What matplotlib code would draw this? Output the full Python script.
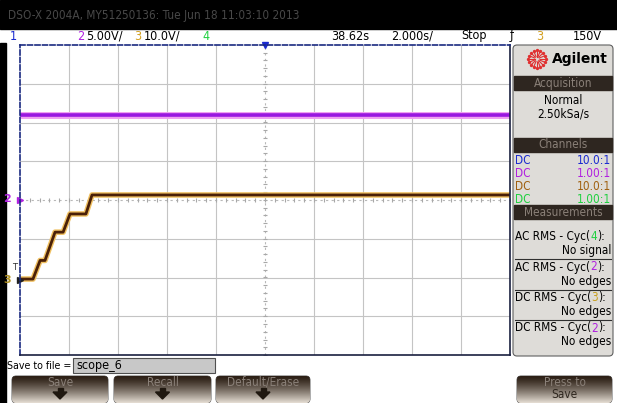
import numpy as np
import matplotlib
matplotlib.use("Agg")
import matplotlib.pyplot as plt
from matplotlib.patches import Rectangle, FancyBboxPatch, Polygon
from matplotlib import font_manager

# --- values ---
t_ch3 = [28.62, 29.15, 29.44, 29.64, 30.05, 30.38, 30.66, 31.31, 31.56, 48.62]
v_ch3 = [0.2, 0.2, 5.0, 5.0, 12.3, 12.3, 17.0, 17.0, 21.9, 21.9]
t_ch2 = [28.62, 48.62]
v_ch2 = [10.97, 10.97]

volts_div = {2: 5.0, 3: 10.0}
offset_div = {2: 0.0, 3: -2.06}
t_center = 38.62
t_div = 2.0

channel_rows = [("DC", "10.0:1", "#1a2ad0"), ("DC", "1.00:1", "#b020e0"),
                ("DC", "10.0:1", "#a06010"), ("DC", "1.00:1", "#20d040")]
meas_rows = [("AC RMS - Cyc(", "4", "#20d040", "No signal"),
             ("AC RMS - Cyc(", "2", "#b020e0", "No edges"),
             ("DC RMS - Cyc(", "3", "#c8a020", "No edges"),
             ("DC RMS - Cyc(", "2", "#b020e0", "No edges")]
buttons = [("Save", 12, 108), ("Recall", 114, 211), ("Default/Erase", 216, 310),
           ("Press to\nSave", 517, 612)]

# look for a narrow face, the scope font is condensed
narrow = None
for f in font_manager.fontManager.ttflist:
    if f.stretch in ("condensed", "semi-condensed", "extra-condensed", 700, 600, 500) or \
       "Condensed" in f.fname or "Narrow" in f.fname:
        if "Bold" in f.fname or "Oblique" in f.fname or "Italic" in f.fname:
            continue
        narrow = f
        break
if narrow is not None:
    font_manager.fontManager.addfont(narrow.fname)
    FP = dict(fontproperties=font_manager.FontProperties(fname=narrow.fname))
    FS = 8.5
else:
    FP = dict(family="DejaVu Sans")
    FS = 7.2

BLUE = "#1a2ad0"
PURPLE = "#b020e0"
ORANGE = "#d4a020"
GREEN = "#20d040"


def txt(x, y, s, size=None, **kw):
    if "fontproperties" in FP:
        p = FP["fontproperties"].copy()
        p.set_size(size or FS)
        return bg.text(x, y, s, fontproperties=p, **kw)
    return bg.text(x, y, s, family="DejaVu Sans", fontsize=size or FS, **kw)


fig = plt.figure(figsize=(6.17, 4.03), dpi=100)
bg = fig.add_axes([0, 0, 1, 1])
bg.set_xlim(0, 617)
bg.set_ylim(403, 0)
bg.axis("off")

# top black bar and left border
bg.add_patch(Rectangle((0, 0), 617, 29, color="black"))
txt(8, 16, "DSO-X 2004A, MY51250136: Tue Jun 18 11:03:10 2013", color="#484848", va="center")
bg.add_patch(Rectangle((0, 43), 6, 360, color="black"))

# header row
hdr = [(10, "1", BLUE), (77, "2", PURPLE), (86, "5.00V/", "black"), (134, "3", ORANGE),
       (144, "10.0V/", "black"), (202, "4", GREEN), (331, "38.62s", "black"),
       (391, "2.000s/", "black"), (461, "Stop", "black"), (510, "ƒ", "black"),
       (536, "3", ORANGE), (573, "150V", "black")]
for x, s, c in hdr:
    txt(x, 36, s, size=FS + 0.5, color=c, va="center", ha="left")

# right panel
bg.add_patch(FancyBboxPatch((513, 45), 100, 311, boxstyle="round,pad=0,rounding_size=4",
                            fc="#dedcd8", ec="#606060", lw=0.8))
cx, cy = 537, 59
for a in np.linspace(0, 2 * np.pi, 16, endpoint=False):
    bg.plot([cx + 2.5 * np.cos(a), cx + 8 * np.cos(a)], [cy + 2.5 * np.sin(a), cy + 8 * np.sin(a)],
            color="#e03030", lw=0.8)
    bg.plot(cx + 9 * np.cos(a), cy + 9 * np.sin(a), "o", color="#e03030", ms=1.4)
bg.text(552, 59, "Agilent", fontsize=10, fontweight="bold", va="center", family="DejaVu Sans")


def header_bar(y0, y1, label):
    bg.add_patch(Rectangle((514, y0), 98, y1 - y0, color="#2e2620"))
    txt(563, (y0 + y1) / 2, label, color="#8a8078", ha="center", va="center")


header_bar(76, 90, "Acquisition")
txt(563, 100, "Normal", ha="center", va="center")
txt(563, 114, "2.50kSa/s", ha="center", va="center")
header_bar(138, 152, "Channels")
for i, (a, b, c) in enumerate(channel_rows):
    y = 160 + i * 13.3
    txt(515, y, a, color=c, va="center")
    txt(611, y, b, color=c, va="center", ha="right")
header_bar(205, 219, "Measurements")
extra = {"family": "DejaVu Sans"} if "family" in FP else {"fontproperties": FP["fontproperties"]}
for i, (pre, num, c, res) in enumerate(meas_rows):
    y = 240 + i * 30.5
    t1 = txt(515, y, pre, va="baseline")
    t2 = bg.annotate(num, xy=(1, 0), xycoords=t1, color=c, fontsize=FS, va="bottom", **extra)
    bg.annotate("):", xy=(1, 0), xycoords=t2, fontsize=FS, va="bottom", **extra)
    txt(611, y + 14, res, ha="right", va="baseline")
    if i < 3:
        bg.plot([515, 611], [y + 19, y + 19], color="#303030", lw=0.8)

# save-to-file row
txt(7, 366, "Save to file =", size=FS - 0.8, va="center")
bg.add_patch(Rectangle((73, 358), 142, 15, fc="#c8c8c8", ec="#505050", lw=0.8))
txt(76, 366, "scope_6", size=FS + 0.5, va="center")

# soft-key buttons
grad = np.linspace(0, 1, 64) ** 1.3
dark = np.array([0.17, 0.12, 0.08])
light = np.array([0.90, 0.87, 0.83])
img = (dark[None, :] * (1 - grad[:, None]) + light[None, :] * grad[:, None])[:, None, :]
for label, x0, x1 in buttons:
    box = FancyBboxPatch((x0, 376), x1 - x0, 27, boxstyle="round,pad=0,rounding_size=4",
                         fc="none", ec="#404040", lw=0.6)
    bg.add_patch(box)
    im = bg.imshow(img, extent=(x0, x1, 403, 376), aspect="auto", zorder=1)
    im.set_clip_path(box)
    xm = (x0 + x1) / 2
    if "\n" in label:
        l1, l2 = label.split("\n")
        txt(xm, 382, l1, color="#8a8078", ha="center", va="center", zorder=2)
        txt(xm, 395, l2, color="#302820", ha="center", va="center", zorder=2)
    else:
        txt(xm, 382, label, color="#8a8078", ha="center", va="center", zorder=2)
        bg.add_patch(Polygon([[xm - 7, 392], [xm + 7, 392], [xm, 399]], color="#201810", zorder=2))
        bg.add_patch(Rectangle((xm - 2.5, 388), 5, 4, color="#201810", zorder=2))

# --- scope graticule ---
ax = fig.add_axes([20 / 617, 48 / 403, 490 / 617, 310 / 403])
t0 = t_center - 5 * t_div
t1 = t_center + 5 * t_div
ax.set_xlim(t0, t1)
ax.set_ylim(-4, 4)
ax.set_xticks([])
ax.set_yticks([])
for k in range(1, 10):
    if k == 5:
        continue
    ax.axvline(t0 + k * t_div, color="#c4c4c4", lw=0.8)
for k in range(-3, 4):
    if k == 0:
        continue
    ax.axhline(k, color="#c4c4c4", lw=0.8)
ax.axvline(t_center, color="#b8b8b8", lw=0.8, ls=(0, (2, 3)))
ax.axhline(0, color="#b8b8b8", lw=0.8, ls=(0, (2, 3)))
minor_t = np.arange(t0, t1 + 1e-6, t_div / 5)
ax.plot(minor_t, np.zeros_like(minor_t), "|", color="#a8a8a8", ms=3, mew=0.8)
minor_v = np.arange(-4, 4.01, 0.2)
ax.plot(np.full_like(minor_v, t_center), minor_v, "_", color="#a8a8a8", ms=3, mew=0.8)

for s in ["top", "left"]:
    ax.spines[s].set_color("#1a2a80")
    ax.spines[s].set_linestyle((0, (3, 1.5)))
    ax.spines[s].set_linewidth(1.2)
for s in ["right", "bottom"]:
    ax.spines[s].set_color("#1a2040")
    ax.spines[s].set_linewidth(1.2)

y2 = np.array(v_ch2) / volts_div[2] + offset_div[2]
ax.plot(t_ch2, y2, color="#f0a0f0", lw=5, solid_capstyle="butt")
ax.plot(t_ch2, y2, color="#9a18e0", lw=2.6, solid_capstyle="butt")

y3 = np.array(v_ch3) / volts_div[3] + offset_div[3]
ax.plot(t_ch3, y3, color="#f0c060", lw=4, solid_capstyle="butt")
ax.plot(t_ch3, y3, color="#4a2008", lw=2, solid_capstyle="butt")

# trigger position marker on top edge
ax.plot(t_center, 4, marker="v", color=BLUE, ms=5, clip_on=False)

# ground markers at left edge
ax.annotate("2", xy=(t0, offset_div[2]), xytext=(-9, 1), textcoords="offset points",
            color=PURPLE, fontsize=8, fontweight="bold", va="center", ha="center",
            annotation_clip=False)
ax.plot(t0, offset_div[2], marker=">", color=PURPLE, ms=4, clip_on=False)
ax.annotate("3", xy=(t0, offset_div[3]), xytext=(-9, 0), textcoords="offset points",
            color="#b09020", fontsize=8, fontweight="bold", va="center", ha="center",
            annotation_clip=False)
ax.plot(t0, offset_div[3], marker=">", color="#202020", ms=4, clip_on=False)
ax.annotate("T", xy=(t0, offset_div[3]), xytext=(-4, 9), textcoords="offset points",
            color="#303030", fontsize=6, va="center", ha="center", annotation_clip=False)

fig.savefig("out.png", dpi=100)
